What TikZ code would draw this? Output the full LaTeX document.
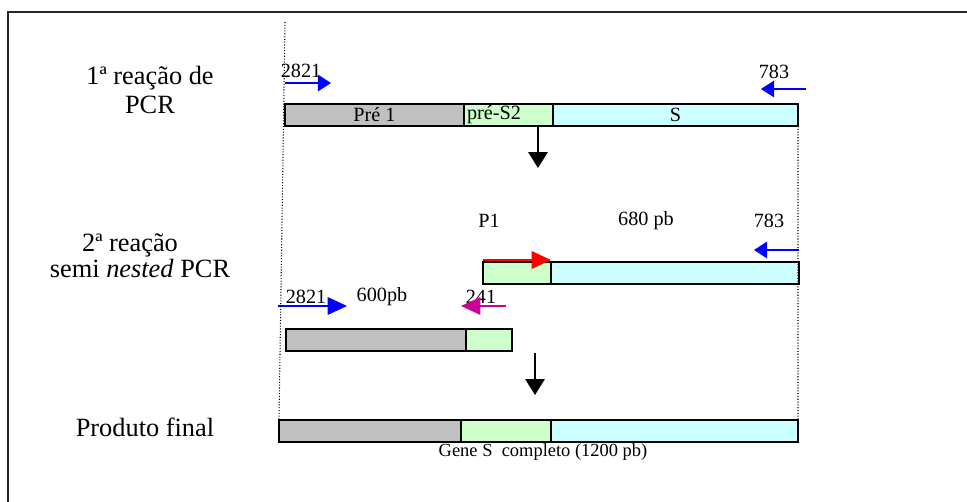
\documentclass[tikz,border=0pt]{standalone}
\usepackage{fontspec}
\setmainfont{Liberation Serif}
\usepackage{xcolor}
\usetikzlibrary{arrows.meta,positioning}

\definecolor{preone}{RGB}{192,192,192}
\definecolor{pretwo}{RGB}{204,255,204}
\definecolor{sgene}{RGB}{204,255,255}
\definecolor{primerblue}{RGB}{0,0,255}
\definecolor{primerred}{RGB}{255,0,0}
\definecolor{primerpink}{RGB}{204,0,153}

\begin{document}
\begin{tikzpicture}[
    x=0.2mm, y=-0.2mm,
    font=\fontsize{11.5}{13}\selectfont,
    seg/.style={draw, line width=0.9pt, inner sep=0pt, outer sep=0pt, minimum height=4.4mm},
    grayseg/.style={seg, fill=preone},
    greenseg/.style={seg, fill=pretwo},
    cyanseg/.style={seg, fill=sgene},
    lab/.style={align=center, font=\fontsize{15}{17}\selectfont},
    num/.style={inner sep=0pt},
    primer/.style={line width=0.8pt, -{Triangle[length=7.5pt,width=9.5pt]}},
    bigprimer/.style={line width=0.8pt, -{Triangle[length=11pt,width=10pt]}},
    down/.style={line width=0.8pt, -{Triangle[length=9pt,width=11pt]}},
    guide/.style={densely dotted, line width=0.6pt},
    ]
\useasboundingbox (0,0) rectangle (967,502);
\draw[line width=1.1pt, black!85] (8,515) -- (8,12) -- (980,12);

% row labels
\node[lab] (first) at (150,90) {1ª reação de\\PCR};
\node[lab, font=\fontsize{15}{12}\selectfont] (second) at (140,256) {2ª reação\hspace*{4mm}\\semi \textit{nested} PCR};
\node[lab] (final) at (145,427) {Produto final};

% 1st PCR
\node[grayseg, minimum width=35.8mm, anchor=north west] (pre1) at (285,104) {Pré 1};
\node[greenseg, text width=16.6mm, inner xsep=0.6mm, align=left, right=0pt of pre1] (pres2) {pré-S2};
\node[cyanseg, minimum width=49mm, right=0pt of pres2] (sg) {S};

\coordinate (f1s) at (285,83);
\coordinate (f1e) at (331,83);
\coordinate (r1s) at (806,89);
\coordinate (r1e) at (761,89);
\draw[primer, primerblue] (f1s) -- (f1e);
\draw[primer, primerblue] (r1s) -- (r1e);
\node[num] (n2821a) at (301,71) {2821};
\node[num] (n783a) at (774,72) {783};

\coordinate (d1) at (538,168);
\draw[down] (pres2.south -| d1) -- (d1);

% 2nd PCR, P1 + 783
\node[greenseg, minimum width=13.6mm, anchor=north west] (p1g) at (483,262) {};
\node[cyanseg, minimum width=49.6mm, right=0pt of p1g] (p1s) {};
\node[num] (np1) at (489,221) {P1};
\node[num] (n680) at (646,221) {680 pb};
\node[num] (n783b) at (769,221) {783};
\draw[bigprimer, primerred] (p1g.north west) ++(0,-2) coordinate (p1a) -- (p1g.north east |- p1a);
\coordinate (r2s) at (799,250);
\coordinate (r2e) at (754,250);
\draw[primer, primerblue] (r2s) -- (r2e);

% 2nd PCR, 2821 + 241
\node[grayseg, minimum width=36mm, anchor=north west] (q1g) at (286,329) {};
\node[greenseg, minimum width=9.2mm, right=0pt of q1g] (q2g) {};
\node[num] (n2821b) at (306,297) {2821};
\node[num] (n600) at (382,297) {600pb};
\node[num] (n241) at (481,297) {241};
\coordinate (f2s) at (278,306);
\coordinate (f2e) at (347,306);
\coordinate (m2s) at (506,306);
\coordinate (m2e) at (461,306);
\draw[bigprimer, primerblue] (f2s) -- (f2e);
\draw[bigprimer, primerpink] (m2s) -- (m2e);

\coordinate (d2s) at (535,353);
\coordinate (d2e) at (535,395);
\draw[down] (d2s) -- (d2e);

% final product
\node[grayseg, minimum width=36.4mm, anchor=north west] (fg) at (279,420) {};
\node[greenseg, minimum width=18mm, right=0pt of fg] (fp) {};
\node[cyanseg, minimum width=49.4mm, right=0pt of fp] (fs) {};
\node[font=\fontsize{10.5}{12}\selectfont, inner sep=0pt] (gene) at (543,452) {Gene S\ \ completo (1200 pb)};

% guides
\coordinate (gtop) at (285,22);
\draw[guide] (gtop) -- (fg.north west);
\draw[guide] (sg.south east) -- (fs.north east);
\end{tikzpicture}
\end{document}
